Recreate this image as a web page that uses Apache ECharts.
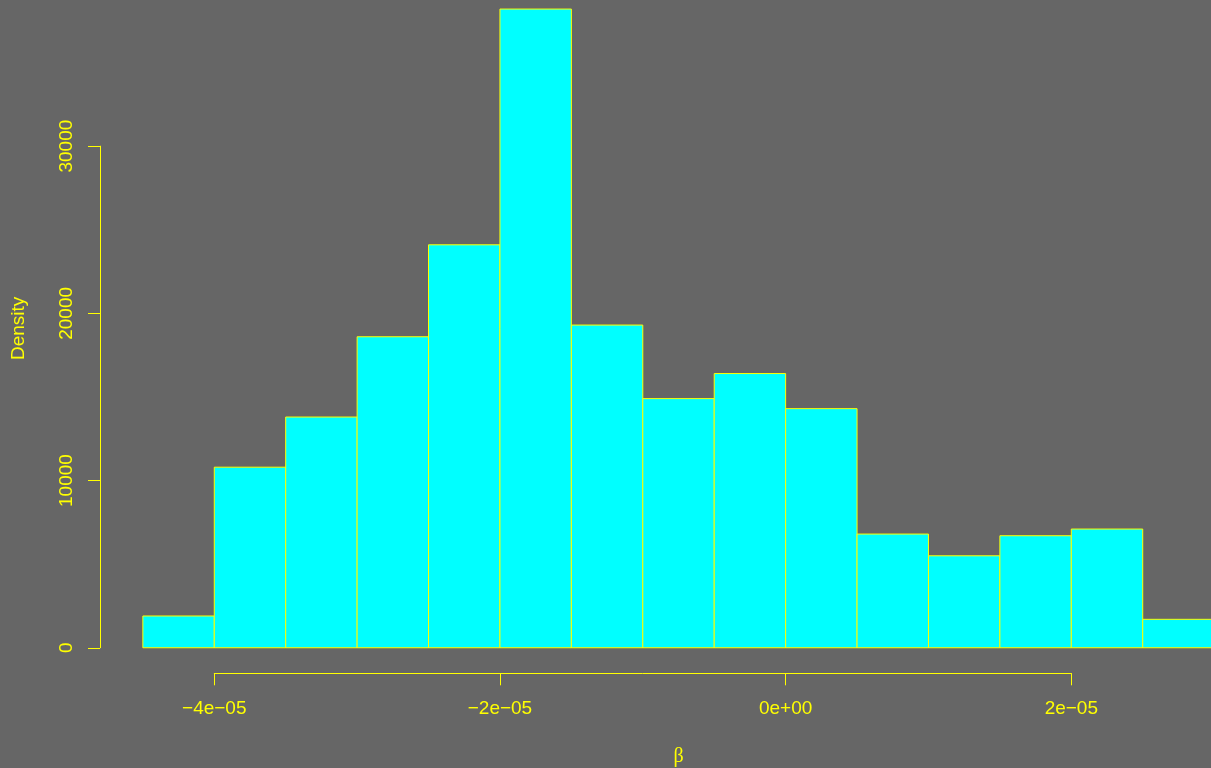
<!DOCTYPE html>
<html>
<head>
<meta charset="utf-8">
<script src="https://cdn.jsdelivr.net/npm/echarts@6/dist/echarts.min.js"></script>
<style>
  html, body { margin: 0; padding: 0; background: #666666; }
  #chart { width: 1211px; height: 768px; }
</style>
</head>
<body>
<div id="chart"></div>
<script>
// Histogram of the beta draws on the density scale (bin width 5e-06)
const binEdges = [-4.5e-5, -4.0e-5, -3.5e-5, -3.0e-5, -2.5e-5, -2.0e-5, -1.5e-5, -1.0e-5,
                  -0.5e-5, 0, 0.5e-5, 1.0e-5, 1.5e-5, 2.0e-5, 2.5e-5, 3.0e-5];
const density = [1900, 10800, 13800, 18600, 24100, 38200, 19300, 14900,
                 16400, 14300, 6800, 5500, 6700, 7100, 1700];
const xTickValues = [-4e-5, -2e-5, 0, 2e-5];
const xTickLabels = ['\u22124e\u221205', '\u22122e\u221205', '0e+00', '2e\u221205'];
const yTickValues = [0, 10000, 20000, 30000];
const yTickLabels = ['0', '10000', '20000', '30000'];

const FG = '#ffff00';
const FILL = '#00ffff';
const SANS = '"Liberation Sans", Arial, Helvetica, sans-serif';
const SERIF = '"Liberation Serif", "DejaVu Serif", serif';

// Axis ranges padded by 4% on each side
const xLo = binEdges[0], xHi = binEdges[binEdges.length - 1];
const xPad = 0.04 * (xHi - xLo);
const xMin = xLo - xPad, xMax = xHi + xPad;
const dMax = Math.max(...density);
const yMin = -0.04 * dMax, yMax = 1.04 * dMax;

// Plot region (extends a little past the canvas on the top and right)
const plot = { left: 100, top: -16.5, width: 1157, height: 689.8 };
const xPx = v => plot.left + plot.width * (v - xMin) / (xMax - xMin);
const yPx = v => plot.top + plot.height * (yMax - v) / (yMax - yMin);

const xt0 = xTickValues[0], xtN = xTickValues[xTickValues.length - 1];
const yt0 = yTickValues[0], ytN = yTickValues[yTickValues.length - 1];

function lookup(values, labels, v) {
  const i = values.findIndex(t => Math.abs(t - v) < 1e-9 * Math.max(1, Math.abs(t)) || Math.abs(t - v) < 1e-12);
  return i >= 0 ? labels[i] : '';
}

const hidden = { axisLine: { show: false }, axisTick: { show: false }, axisLabel: { show: false }, splitLine: { show: false } };

const chart = echarts.init(document.getElementById('chart'), null, { renderer: 'canvas' });
chart.setOption({
  backgroundColor: '#666666',
  animation: false,
  grid: [
    Object.assign({ containLabel: false, outerBoundsMode: 'none' }, plot),
    { containLabel: false, outerBoundsMode: 'none',
      left: xPx(xt0), width: xPx(xtN) - xPx(xt0),
      top: plot.top + plot.height - 10, height: 10 },
    { containLabel: false, outerBoundsMode: 'none',
      left: plot.left, width: 10,
      top: yPx(ytN), height: yPx(yt0) - yPx(ytN) }
  ],
  xAxis: [
    Object.assign({
      gridIndex: 0, type: 'value', min: xMin, max: xMax,
      name: '\u03b2', nameLocation: 'middle', nameGap: 73,
      nameTextStyle: { color: FG, fontFamily: SERIF, fontSize: 20 }
    }, hidden),
    {
      gridIndex: 1, type: 'value', min: xt0, max: xtN, interval: xTickValues[1] - xTickValues[0],
      axisLine: { show: true, onZero: false, lineStyle: { color: FG, width: 1 } },
      axisTick: { show: true, length: 12, lineStyle: { color: FG, width: 1 } },
      axisLabel: {
        show: true, color: FG, fontFamily: SANS, fontSize: 19, margin: 26,
        formatter: v => lookup(xTickValues, xTickLabels, v)
      },
      splitLine: { show: false }
    },
    Object.assign({ gridIndex: 2, type: 'value', show: false }, hidden)
  ],
  yAxis: [
    Object.assign({
      gridIndex: 0, type: 'value', min: yMin, max: yMax,
      name: 'Density', nameLocation: 'middle', nameGap: 72, nameRotate: 90,
      nameTextStyle: { color: FG, fontFamily: SANS, fontSize: 19 }
    }, hidden),
    Object.assign({ gridIndex: 1, type: 'value', show: false }, hidden),
    {
      gridIndex: 2, type: 'value', min: yt0, max: ytN, interval: yTickValues[1] - yTickValues[0],
      axisLine: { show: true, onZero: false, lineStyle: { color: FG, width: 1 } },
      axisTick: { show: true, length: 12, lineStyle: { color: FG, width: 1 } },
      axisLabel: {
        show: true, color: FG, fontFamily: SANS, fontSize: 19, margin: 24, rotate: 90,
        formatter: v => lookup(yTickValues, yTickLabels, v)
      },
      splitLine: { show: false }
    }
  ],
  series: [{
    type: 'custom',
    xAxisIndex: 0, yAxisIndex: 0,
    clip: false,
    encode: { x: [0, 1], y: 2 },
    data: density.map((d, i) => [binEdges[i], binEdges[i + 1], d]),
    renderItem: function (params, api) {
      const p0 = api.coord([api.value(0), api.value(2)]);
      const p1 = api.coord([api.value(1), 0]);
      return {
        type: 'rect',
        shape: { x: p0[0], y: p0[1], width: p1[0] - p0[0], height: p1[1] - p0[1] },
        style: { fill: FILL, stroke: FG, lineWidth: 1 }
      };
    }
  }]
});
</script>
</body>
</html>
